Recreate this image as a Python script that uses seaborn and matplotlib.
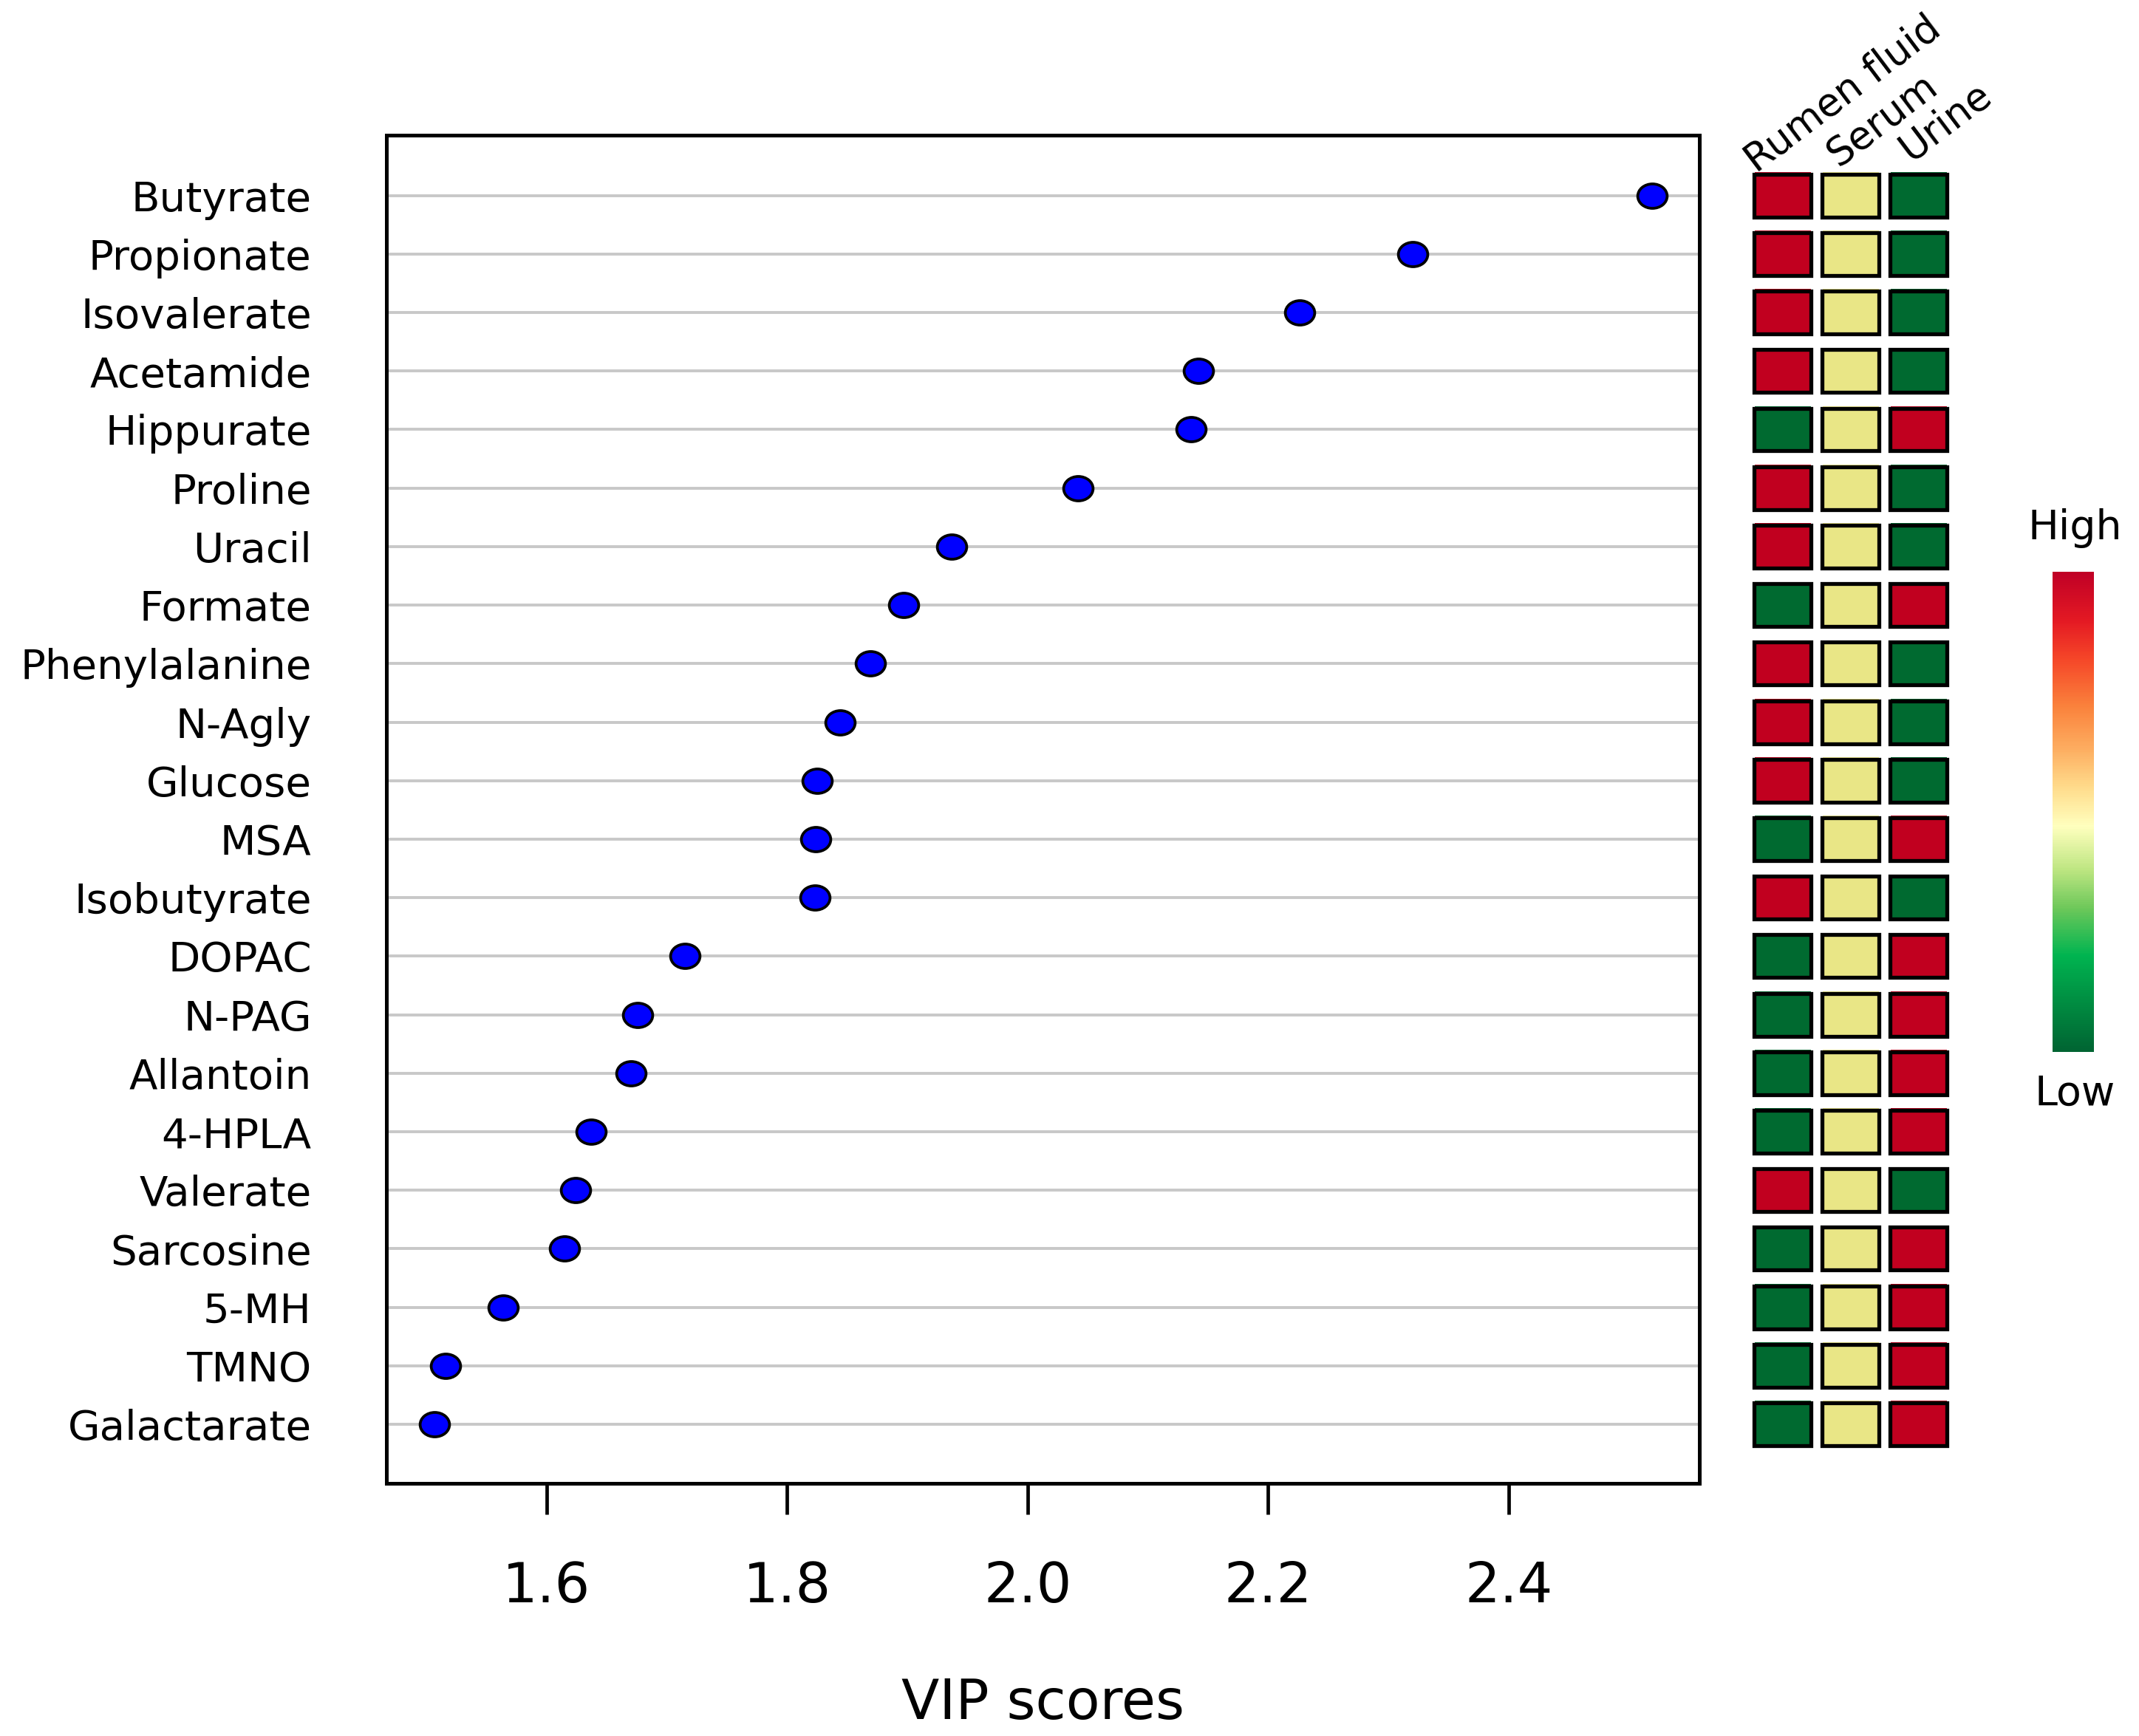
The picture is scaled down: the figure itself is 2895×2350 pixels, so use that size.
import numpy as np
import pandas as pd
import matplotlib
matplotlib.use("Agg")
import matplotlib.pyplot as plt
import seaborn as sns
from matplotlib.path import Path
from matplotlib.transforms import Affine2D
from matplotlib.colors import ListedColormap, LinearSegmentedColormap, Normalize
from matplotlib.patches import Rectangle
from matplotlib.cm import ScalarMappable

# ---------------- data ----------------
metabolites = ["Butyrate", "Propionate", "Isovalerate", "Acetamide", "Hippurate",
               "Proline", "Uracil", "Formate", "Phenylalanine", "N-Agly",
               "Glucose", "MSA", "Isobutyrate", "DOPAC", "N-PAG", "Allantoin",
               "4-HPLA", "Valerate", "Sarcosine", "5-MH", "TMNO", "Galactarate"]
vip_scores = [2.519, 2.320, 2.226, 2.142, 2.136, 2.042, 1.937, 1.897, 1.869, 1.844,
              1.825, 1.824, 1.823, 1.715, 1.676, 1.670, 1.637, 1.624, 1.615, 1.564,
              1.516, 1.507]
sample_types = ["Rumen fluid", "Serum", "Urine"]
# relative level: 1 = high, 0 = middle, -1 = low
rumen_level = [1, 1, 1, 1, -1, 1, 1, -1, 1, 1, 1, -1, 1, -1, -1, -1, -1, 1, -1, -1, -1, -1]
serum_level = [0, 0, 0, 0, 0, 0, 0, 0, 0, 0, 0, 0, 0, 0, 0, 0, 0, 0, 0, 0, 0, 0]
urine_level = [-1, -1, -1, -1, 1, -1, -1, 1, -1, -1, -1, 1, -1, 1, 1, 1, 1, -1, 1, 1, 1, 1]
x_ticks = [1.6, 1.8, 2.0, 2.2, 2.4]
x_tick_labels = ["1.6", "1.8", "2.0", "2.2", "2.4"]

# ---------------- style ----------------
sns.set_style("white")
plt.rcParams["font.family"] = ["DejaVu Sans"]

fig = plt.figure(figsize=(28.95, 23.5), dpi=100)

# ---------------- main dot plot ----------------
ax = fig.add_axes([0.1807, 0.1455, 0.6138, 0.7766])
df = pd.DataFrame({"Metabolite": metabolites, "VIP": vip_scores})

ellipse = Path.unit_circle().transformed(Affine2D().scale(1.0, 0.83))
sns.scatterplot(data=df, x="VIP", y="Metabolite", ax=ax, marker=ellipse, s=820,
                color="#0000FF", edgecolor="black", linewidth=2.7, zorder=3)

ax.set_xlim(1.467, 2.5585)
ax.set_ylim(len(metabolites) - 1 + 1.01, -1.03)
ax.set_xticks(x_ticks)
ax.set_xticklabels(x_tick_labels)
ax.grid(axis="y", color="#C8C8C8", linewidth=2.8)
ax.grid(axis="x", visible=False)
ax.set_axisbelow(True)
for s in ax.spines.values():
    s.set_visible(True)
    s.set_color("black")
    s.set_linewidth(3.6)
ax.tick_params(axis="y", length=0, pad=73, labelsize=40.5, labelcolor="black")
ax.tick_params(axis="x", bottom=True, length=30, width=3.4, color="black",
               direction="out", pad=45, labelsize=54, labelcolor="black")
ax.set_ylabel("")
ax.set_xlabel("VIP scores", fontsize=54, color="black")
ax.xaxis.set_label_coords(0.5, -0.1436)

# ---------------- heatmap ----------------
hax = fig.add_axes([0.8176, 0.1455, 0.0953, 0.7766])
heat_df = pd.DataFrame({sample_types[0]: rumen_level,
                        sample_types[1]: serum_level,
                        sample_types[2]: urine_level}, index=metabolites)
cell_cmap = ListedColormap(["#006A30", "#E9E686", "#C1001F"])
sns.heatmap(heat_df, ax=hax, cmap=cell_cmap, vmin=-1.5, vmax=1.5, cbar=False,
            linewidths=11.5, linecolor="white", xticklabels=False, yticklabels=False)
nrow, ncol = heat_df.shape
hax.set_xlim(0, ncol)
hax.set_ylim(nrow + 0.51, -0.53)
for s in hax.spines.values():
    s.set_visible(False)
hax.tick_params(length=0)
hax.set_xlabel("")
hax.set_ylabel("")
inset_x, inset_y = 0.0815, 0.134
for i in range(nrow):
    for j in range(ncol):
        hax.add_patch(Rectangle((j + inset_x, i + inset_y), 1 - 2 * inset_x, 1 - 2 * inset_y,
                                fill=False, edgecolor="black", linewidth=3.8, zorder=4))

label_dx = [0.11, 0.31, 0.38]
label_dy = [0.13, 0.02, -0.07]
for j, name in enumerate(sample_types):
    hax.text(j + label_dx[j], label_dy[j], name, rotation=37, rotation_mode="anchor",
             ha="left", va="baseline", fontsize=38, color="black", clip_on=False)

# ---------------- colour bar ----------------
grad_cmap = LinearSegmentedColormap.from_list("lowhigh", [
    (0.00, (0/255, 100/255, 50/255)),
    (0.10, (0/255, 140/255, 65/255)),
    (0.20, (0/255, 180/255, 80/255)),
    (0.30, (110/255, 200/255, 90/255)),
    (0.38, (190/255, 230/255, 130/255)),
    (0.47, (255/255, 255/255, 190/255)),
    (0.55, (255/255, 220/255, 140/255)),
    (0.63, (253/255, 174/255, 97/255)),
    (0.72, (250/255, 130/255, 60/255)),
    (0.82, (245/255, 70/255, 40/255)),
    (0.90, (228/255, 25/255, 35/255)),
    (1.00, (192/255, 0/255, 38/255)),
])
cax = fig.add_axes([0.9596, 0.394, 0.0193, 0.2766])
cb = fig.colorbar(ScalarMappable(norm=Normalize(-1, 1), cmap=grad_cmap), cax=cax)
cb.outline.set_visible(False)
cb.set_ticks([])
fig.text(0.9700, 1 - 715 / 2350, "High", ha="center", va="center", fontsize=40, color="black")
fig.text(0.9700, 1 - 1481 / 2350, "Low", ha="center", va="center", fontsize=40, color="black")

fig.savefig("out.png", dpi=100, facecolor="white")
